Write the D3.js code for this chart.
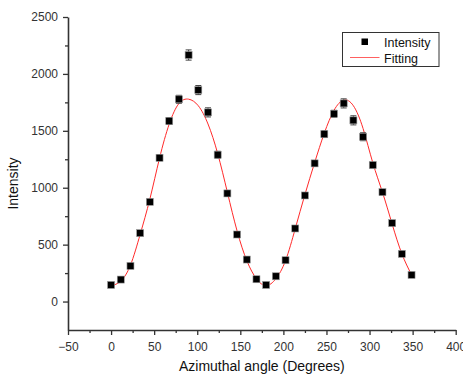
<!DOCTYPE html>
<html>
<head>
<meta charset="utf-8">
<script src="https://cdn.jsdelivr.net/npm/d3@7"></script>
<style>
  body { margin: 0; background: #fff; }
  text { font-family: "Liberation Sans", Arial, sans-serif; }
</style>
</head>
<body>
<div id="chart"></div>
<script>
// measured intensity, one point every 11.25 degrees
var angles = [0, 11.25, 22.5, 33.75, 45, 56.25, 67.5, 78.75, 90, 101.25, 112.5, 123.75,
              135, 146.25, 157.5, 168.75, 180, 191.25, 202.5, 213.75, 225, 236.25, 247.5,
              258.75, 270, 281.25, 292.5, 303.75, 315, 326.25, 337.5, 348.75]
var intensity = [146, 193, 313, 601, 876, 1263, 1586, 1777, 2166, 1858, 1662, 1290,
                 950, 589, 369, 196, 146, 222, 363, 642, 932, 1214, 1471,
                 1650, 1741, 1592, 1448, 1199, 961, 689, 419, 234]
var errors = [15, 15, 15, 20, 20, 25, 30, 35, 45, 40, 40, 30,
              25, 20, 15, 15, 15, 15, 15, 20, 20, 25, 30,
              30, 40, 40, 35, 25, 20, 20, 15, 15]
// fitted curve at the same angles
var fitting = [137, 180, 320, 590, 900, 1260, 1560, 1740, 1778, 1720, 1560, 1300,
               960, 620, 360, 200, 140, 200, 360, 640, 940, 1220, 1480,
               1680, 1770, 1720, 1520, 1220, 960, 680, 420, 235]

var xTicks = [-50, 0, 50, 100, 150, 200, 250, 300, 350, 400]
var xMinor = [-25, 25, 75, 125, 175, 225, 275, 325, 375]
var yTicks = [0, 500, 1000, 1500, 2000, 2500]
var yMinor = [250, 750, 1250, 1750, 2250]

var width = 463,
    height = 377

var svg = d3.select("#chart")
            .append("svg")
            .attr("width", width)
            .attr("height", height)

var x = d3.scaleLinear().domain([-50, 400]).range([68, 455.7])
var y = d3.scaleLinear().domain([-250, 2500]).range([330, 17])

var axisColor = "#333"
var fmt = d3.format("d")

// x axis
var gx = svg.append("g").attr("transform", "translate(0,330)")
gx.call(d3.axisBottom(x).tickValues(xTicks).tickFormat(fmt).tickSize(5).tickPadding(7).tickSizeOuter(0))
gx.append("g").call(d3.axisBottom(x).tickValues(xMinor).tickSize(3).tickFormat(""))
  .select(".domain").remove()

// y axis
var gy = svg.append("g").attr("transform", "translate(68,0)")
gy.call(d3.axisLeft(y).tickValues(yTicks).tickFormat(fmt).tickSize(5).tickPadding(5).tickSizeOuter(0))
gy.append("g").call(d3.axisLeft(y).tickValues(yMinor).tickSize(3).tickFormat(""))
  .select(".domain").remove()

svg.selectAll(".domain").attr("stroke", axisColor).attr("stroke-width", 1.6)
svg.selectAll(".tick line").attr("stroke", axisColor).attr("stroke-width", 1.3)
svg.selectAll(".tick text")
   .attr("font-family", "Liberation Sans, Arial, sans-serif")
   .attr("font-size", "12px")
   .attr("fill", "#333")

// axis titles
svg.append("text")
   .attr("x", (x(-50) + x(400)) / 2)
   .attr("y", 371)
   .attr("text-anchor", "middle")
   .attr("font-size", "14px")
   .attr("fill", "#111")
   .text("Azimuthal angle (Degrees)")

svg.append("text")
   .attr("transform", "translate(18,183.5) rotate(-90)")
   .attr("text-anchor", "middle")
   .attr("font-size", "14px")
   .attr("fill", "#111")
   .text("Intensity")

// fitted curve
var line = d3.line()
             .x(function(d, i) { return x(angles[i]) })
             .y(function(d) { return y(d) })
             .curve(d3.curveNatural)

svg.append("path")
   .datum(fitting)
   .attr("d", line)
   .attr("fill", "none")
   .attr("stroke", "#ff2a2a")
   .attr("stroke-width", 1)

// error bars
var pts = angles.map(function(a, i) { return {a: a, v: intensity[i], e: errors[i]} })

var eb = svg.append("g").selectAll("g")
            .data(pts)
            .enter().append("g")
            .attr("stroke", "#444")
            .attr("stroke-width", 1)

eb.append("line")
  .attr("x1", function(d) { return x(d.a) })
  .attr("x2", function(d) { return x(d.a) })
  .attr("y1", function(d) { return y(d.v - d.e) })
  .attr("y2", function(d) { return y(d.v + d.e) })
eb.append("line")
  .attr("x1", function(d) { return x(d.a) - 3 })
  .attr("x2", function(d) { return x(d.a) + 3 })
  .attr("y1", function(d) { return y(d.v + d.e) })
  .attr("y2", function(d) { return y(d.v + d.e) })
eb.append("line")
  .attr("x1", function(d) { return x(d.a) - 3 })
  .attr("x2", function(d) { return x(d.a) + 3 })
  .attr("y1", function(d) { return y(d.v - d.e) })
  .attr("y2", function(d) { return y(d.v - d.e) })

// data points
svg.append("g").selectAll("rect")
   .data(pts)
   .enter().append("rect")
   .attr("x", function(d) { return x(d.a) - 3.5 })
   .attr("y", function(d) { return y(d.v) - 3.5 })
   .attr("width", 7)
   .attr("height", 7)
   .attr("fill", "#000")
   .attr("stroke", "#999")
   .attr("stroke-width", 0.6)

// legend
var lg = svg.append("g")
lg.append("rect")
  .attr("x", 342.5).attr("y", 32.5)
  .attr("width", 96.5).attr("height", 34)
  .attr("fill", "#fff")
  .attr("stroke", "#333")
  .attr("stroke-width", 1)
lg.append("rect")
  .attr("x", 361.5).attr("y", 38.5)
  .attr("width", 6.5).attr("height", 6.5)
  .attr("fill", "#000")
lg.append("line")
  .attr("x1", 350).attr("x2", 379.5)
  .attr("y1", 57.5).attr("y2", 57.5)
  .attr("stroke", "#ff6060")
  .attr("stroke-width", 1)
lg.append("text")
  .attr("x", 384).attr("y", 46.5)
  .attr("font-size", "12.5px")
  .attr("fill", "#111")
  .text("Intensity")
lg.append("text")
  .attr("x", 384).attr("y", 62.5)
  .attr("font-size", "12.5px")
  .attr("fill", "#111")
  .text("Fitting")
</script>
</body>
</html>
